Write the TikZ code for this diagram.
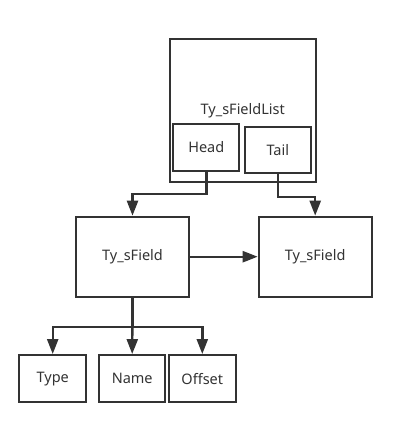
\documentclass[tikz,border=0pt]{standalone}
\usepackage{fontspec}
\setmainfont{Noto Sans}
\usetikzlibrary{arrows.meta}
\definecolor{ink}{HTML}{333333}
\tikzset{
  box/.style={draw=ink, line width=2pt, rectangle, inner sep=0pt, text=ink, font=\fontsize{14.5}{17}\selectfont},
  conn/.style={draw=ink, line width=2.4pt, -{Triangle[length=15pt,width=11pt]}}
}
\begin{document}
\begin{tikzpicture}[x=1pt,y=-1pt]
\useasboundingbox (0,0) rectangle (416,425);
\node[box, minimum width=146.5pt, minimum height=143pt] (list) at (242.75,110.5) {Ty\_sFieldList};
\node[box, minimum width=66pt, minimum height=46.4pt] (head) at (206.3,147.5) {Head};
\node[box, minimum width=65.7pt, minimum height=46.6pt] (tail) at (277.8,150) {Tail};
\node[box, minimum width=113pt, minimum height=80pt] (f1) at (132.5,256.7) {Ty\_sField};
\node[box, minimum width=113pt, minimum height=80pt] (f2) at (315.2,256.7) {Ty\_sField};
\node[box, minimum width=66.7pt, minimum height=47.3pt] (type) at (52.7,378.7) {Type};
\node[box, minimum width=66.3pt, minimum height=47.3pt] (name) at (132.2,378.7) {Name};
\node[box, minimum width=66.7pt, minimum height=47.3pt] (offset) at (202.3,378.7) {Offset};
\draw[conn] (head.south) -- ++(0,22.3) -| (f1.north);
\draw[conn] (tail.south) -- ++(0,22.4) -| (f2.north);
\draw[conn] (f1.east) -- (f2.west);
\draw[conn] (f1.south) -- ++(0,29.3) -| (type.north);
\draw[conn] (f1.south) -- (name.north);
\draw[conn] (f1.south) -- ++(0,29.3) -| (offset.north);
\end{tikzpicture}
\end{document}
